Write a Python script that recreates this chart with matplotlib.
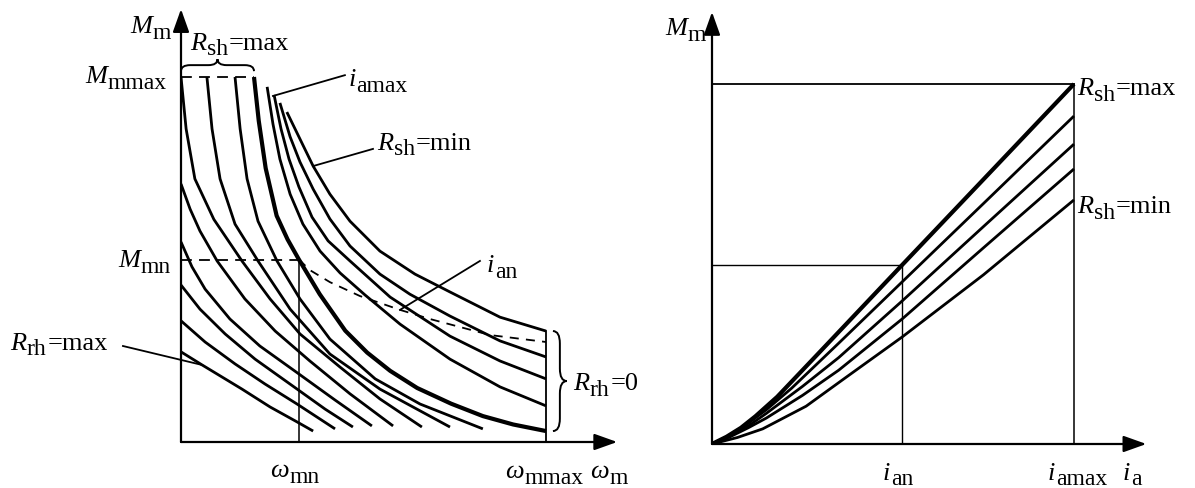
import matplotlib
matplotlib.use("Agg")
import matplotlib.pyplot as plt
from matplotlib.path import Path
from matplotlib.patches import PathPatch

SERIF = ["Liberation Serif", "DejaVu Serif"]
plt.rcParams["font.family"] = SERIF

# ---- left chart: M_m(omega_m), per unit of omega_mmax and M_mmax
OMEGA_N, OMEGA_MAX = 0.323, 1.0
M_N, M_MAX = 0.5, 1.0

# rheostat curves, R_sh = max, from R_rh = max upwards
RH_OMEGA = [
    [0, 0.058, 0.167, 0.244, 0.318, 0.362],
    [0, 0.066, 0.148, 0.230, 0.318, 0.422],
    [0, 0.052, 0.121, 0.203, 0.318, 0.395, 0.471],
    [0, 0.030, 0.066, 0.134, 0.216, 0.318, 0.422, 0.523],
    [0, 0.025, 0.052, 0.099, 0.175, 0.258, 0.353, 0.463, 0.581],
    [0, 0.014, 0.038, 0.090, 0.167, 0.244, 0.326, 0.436, 0.545, 0.660],
    [0.071, 0.085, 0.107, 0.148, 0.211, 0.299, 0.408, 0.545, 0.737],
    [0.148, 0.162, 0.181, 0.211, 0.263, 0.326, 0.408, 0.532, 0.655, 0.827],
]
RH_M = [
    [0.247, 0.211, 0.145, 0.096, 0.055, 0.030],
    [0.332, 0.274, 0.214, 0.159, 0.104, 0.036],
    [0.430, 0.364, 0.296, 0.227, 0.145, 0.090, 0.041],
    [0.548, 0.480, 0.419, 0.337, 0.263, 0.190, 0.115, 0.044],
    [0.707, 0.638, 0.578, 0.496, 0.392, 0.304, 0.222, 0.132, 0.044],
    [1.0, 0.858, 0.721, 0.610, 0.496, 0.392, 0.296, 0.205, 0.118, 0.041],
    [1.0, 0.858, 0.721, 0.597, 0.496, 0.364, 0.241, 0.145, 0.041],
    [1.0, 0.858, 0.721, 0.605, 0.496, 0.392, 0.282, 0.173, 0.104, 0.036],
]

# natural curve: R_sh = max, R_rh = 0
NAT_OMEGA = [0.200, 0.213, 0.232, 0.262, 0.292, 0.323, 0.380, 0.450, 0.510, 0.573,
             0.647, 0.740, 0.827, 0.910, 1.0]
NAT_M = [1.0, 0.880, 0.750, 0.620, 0.555, 0.500, 0.405, 0.305, 0.245, 0.195,
         0.148, 0.105, 0.071, 0.048, 0.030]

# field weakening, R_rh = 0, R_sh going down to min (last one)
FW_OMEGA = [
    [0.236, 0.252, 0.271, 0.299, 0.334, 0.381, 0.436, 0.504, 0.600, 0.737, 0.874, 1.0],
    [0.255, 0.274, 0.296, 0.323, 0.359, 0.403, 0.463, 0.573, 0.737, 0.874, 1.0],
    [0.271, 0.299, 0.326, 0.362, 0.408, 0.463, 0.545, 0.627, 0.737, 0.874, 1.0],
    [0.290, 0.326, 0.362, 0.408, 0.463, 0.545, 0.641, 0.737, 0.874, 1.0],
]
FW_M = [
    [0.973, 0.871, 0.775, 0.679, 0.597, 0.523, 0.463, 0.403, 0.323, 0.227, 0.151, 0.099],
    [0.951, 0.858, 0.775, 0.699, 0.616, 0.551, 0.496, 0.397, 0.290, 0.222, 0.173],
    [0.929, 0.836, 0.767, 0.693, 0.611, 0.537, 0.460, 0.405, 0.345, 0.277, 0.233],
    [0.904, 0.830, 0.756, 0.679, 0.605, 0.523, 0.460, 0.411, 0.342, 0.304],
]

# rated current locus i_an
IAN_OMEGA = [0.323, 0.353, 0.408, 0.490, 0.600, 0.682, 0.847, 1.0]
IAN_M = [0.500, 0.471, 0.438, 0.400, 0.362, 0.337, 0.293, 0.274]

# ---- right chart: M_m(i_a), per unit of i_amax
I_AN, I_AMAX = 0.525, 1.0
M_AN = 0.497
IA = [
    [0, 0.04, 0.08, 0.12, 0.18, 0.30, 0.525, 0.75, 1.0],
    [0, 0.05, 0.10, 0.15, 0.22, 0.35, 0.525, 0.75, 1.0],
    [0, 0.05, 0.10, 0.15, 0.25, 0.35, 0.525, 0.75, 1.0],
    [0, 0.05, 0.10, 0.15, 0.25, 0.35, 0.525, 0.75, 1.0],
    [0, 0.07, 0.14, 0.26, 0.37, 0.525, 0.75, 1.0],
]
MA = [
    [0, 0.020, 0.045, 0.077, 0.131, 0.258, 0.497, 0.735, 1.0],
    [0, 0.025, 0.058, 0.095, 0.155, 0.280, 0.450, 0.668, 0.911],
    [0, 0.022, 0.050, 0.085, 0.160, 0.240, 0.397, 0.604, 0.833],
    [0, 0.020, 0.045, 0.072, 0.135, 0.205, 0.347, 0.545, 0.764],
    [0, 0.018, 0.042, 0.105, 0.185, 0.297, 0.470, 0.678],
]

BIG, SMALL = 19, 17
LW, LW_THICK = 2.0, 3.0


def label(ax, x, y, parts):
    """Italic symbol + upright subscript (+ upright rest), chained left to right."""
    prev, prev_sub = None, False
    for s, kind in parts:
        kw = dict(fontsize=SMALL if kind == "s" else BIG,
                  fontstyle="italic" if kind == "i" else "normal", color="k")
        sub = kind == "s"
        if prev is None:
            prev = ax.text(x, y, s, ha="left", va="baseline", **kw)
        else:
            dy = -4 if (sub and not prev_sub) else (4 if (prev_sub and not sub) else 0)
            prev = ax.annotate(s, xy=(1, 0), xycoords=prev, xytext=(0.5, dy),
                               textcoords="offset points", ha="left", va="bottom", **kw)
        prev_sub = sub


def brace(ax, a, b, base, depth, vertical=False):
    m = (a + b) / 2
    r = (b - a) / 8
    h = depth / 2
    pts = [(a, 0), (a, h), (a + r, h), (m - r, h), (m, h), (m, depth),
           (m, h), (m + r, h), (b - r, h), (b, h), (b, 0)]
    codes = [Path.MOVETO, Path.CURVE3, Path.CURVE3, Path.LINETO, Path.CURVE3, Path.CURVE3,
             Path.CURVE3, Path.CURVE3, Path.LINETO, Path.CURVE3, Path.CURVE3]
    if vertical:
        verts = [(base + v, u) for u, v in pts]
    else:
        verts = [(u, base + v) for u, v in pts]
    ax.add_patch(PathPatch(Path(verts, codes), fill=False, lw=1.4, ec="k", clip_on=False))


def axis_arrows(ax, xtip, ytip):
    style = dict(arrowstyle="-|>,head_length=0.7,head_width=0.25", mutation_scale=20,
                 lw=1.6, color="k", shrinkA=0, shrinkB=0)
    ax.annotate("", xy=(0, ytip), xytext=(0, 0), arrowprops=style, annotation_clip=False)
    ax.annotate("", xy=(xtip, 0), xytext=(0, 0), arrowprops=style, annotation_clip=False)


def leader(ax, p, q):
    ax.plot([p[0], q[0]], [p[1], q[1]], color="k", lw=1.3, clip_on=False)


fig = plt.figure(figsize=(11.95, 4.89), dpi=100)

# ---------------- left
ax1 = fig.add_axes([181 / 1195, 46 / 489, 438 / 1195, 438 / 489])
ax1.set_xlim(0, 1.2)
ax1.set_ylim(0, 1.2)
ax1.axis("off")

for w, m in zip(RH_OMEGA, RH_M):
    ax1.plot(w, m, color="k", lw=LW, solid_capstyle="butt", solid_joinstyle="round")
for w, m in zip(FW_OMEGA, FW_M):
    ax1.plot(w, m, color="k", lw=LW, solid_capstyle="butt", solid_joinstyle="round")
ax1.plot(NAT_OMEGA, NAT_M, color="k", lw=LW_THICK, solid_capstyle="butt", solid_joinstyle="round")
ax1.plot(IAN_OMEGA, IAN_M, color="k", lw=1.3, ls=(0, (5, 4)))

ax1.plot([0, NAT_OMEGA[0]], [M_MAX, M_MAX], color="k", lw=1.3, ls=(0, (6, 4)))
ax1.plot([0, OMEGA_N], [M_N, M_N], color="k", lw=1.3, ls=(0, (6, 4)))
ax1.plot([OMEGA_N, OMEGA_N], [0, M_N], color="k", lw=1.1)
ax1.plot([OMEGA_MAX, OMEGA_MAX], [0, FW_M[-1][-1]], color="k", lw=1.3)
axis_arrows(ax1, 1.195, 1.186)

brace(ax1, 0, NAT_OMEGA[0], 1.016, 0.033)
brace(ax1, NAT_M[-1], FW_M[-1][-1], 1.019, 0.038, vertical=True)

label(ax1, -0.140, 1.123, [("M", "i"), ("m", "s")])
label(ax1, -0.263, 0.986, [("M", "i"), ("mmax", "s")])
label(ax1, -0.173, 0.482, [("M", "i"), ("mn", "s")])
label(ax1, -0.468, 0.255, [("R", "i"), ("rh", "s"), ("=max", "r")])
label(ax1, 0.025, 1.077, [("R", "i"), ("sh", "s"), ("=max", "r")])
label(ax1, 0.458, 0.978, [("i", "i"), ("amax", "s")])
label(ax1, 0.537, 0.803, [("R", "i"), ("sh", "s"), ("=min", "r")])
label(ax1, 0.838, 0.468, [("i", "i"), ("an", "s")])
label(ax1, 1.074, 0.145, [("R", "i"), ("rh", "s"), ("=0", "r")])
label(ax1, 0.244, -0.093, [("ω", "i"), ("mn", "s")])
label(ax1, 0.888, -0.096, [("ω", "i"), ("mmax", "s")])
label(ax1, 1.121, -0.096, [("ω", "i"), ("m", "s")])

leader(ax1, (-0.159, 0.263), (RH_OMEGA[0][1], RH_M[0][1]))
leader(ax1, (0.449, 1.005), (0.252, 0.948))
leader(ax1, (0.526, 0.803), (FW_OMEGA[-1][2], FW_M[-1][2]))
leader(ax1, (0.819, 0.496), (IAN_OMEGA[4], IAN_M[4]))

# ---------------- right
ax2 = fig.add_axes([712 / 1195, 44 / 489, 441.6 / 1195, 439.2 / 489])
ax2.set_xlim(0, 1.22)
ax2.set_ylim(0, 1.22)
ax2.axis("off")

for k, (i, m) in enumerate(zip(IA, MA)):
    ax2.plot(i, m, color="k", lw=LW_THICK if k == 0 else LW,
             solid_capstyle="butt", solid_joinstyle="round")

ax2.plot([0, I_AMAX], [MA[0][-1], MA[0][-1]], color="k", lw=1.3)
ax2.plot([I_AMAX, I_AMAX], [0, MA[0][-1]], color="k", lw=1.1)
ax2.plot([0, I_AN], [M_AN, M_AN], color="k", lw=1.0)
ax2.plot([I_AN, I_AN], [0, M_AN], color="k", lw=1.0)
axis_arrows(ax2, 1.2, 1.2)

label(ax2, -0.13, 1.139, [("M", "i"), ("m", "s")])
label(ax2, 1.008, 0.972, [("R", "i"), ("sh", "s"), ("=max", "r")])
label(ax2, 1.008, 0.644, [("R", "i"), ("sh", "s"), ("=min", "r")])
label(ax2, 0.472, -0.097, [("i", "i"), ("an", "s")])
label(ax2, 0.928, -0.097, [("i", "i"), ("amax", "s")])
label(ax2, 1.135, -0.097, [("i", "i"), ("a", "s")])

fig.savefig("out.png", dpi=100)
